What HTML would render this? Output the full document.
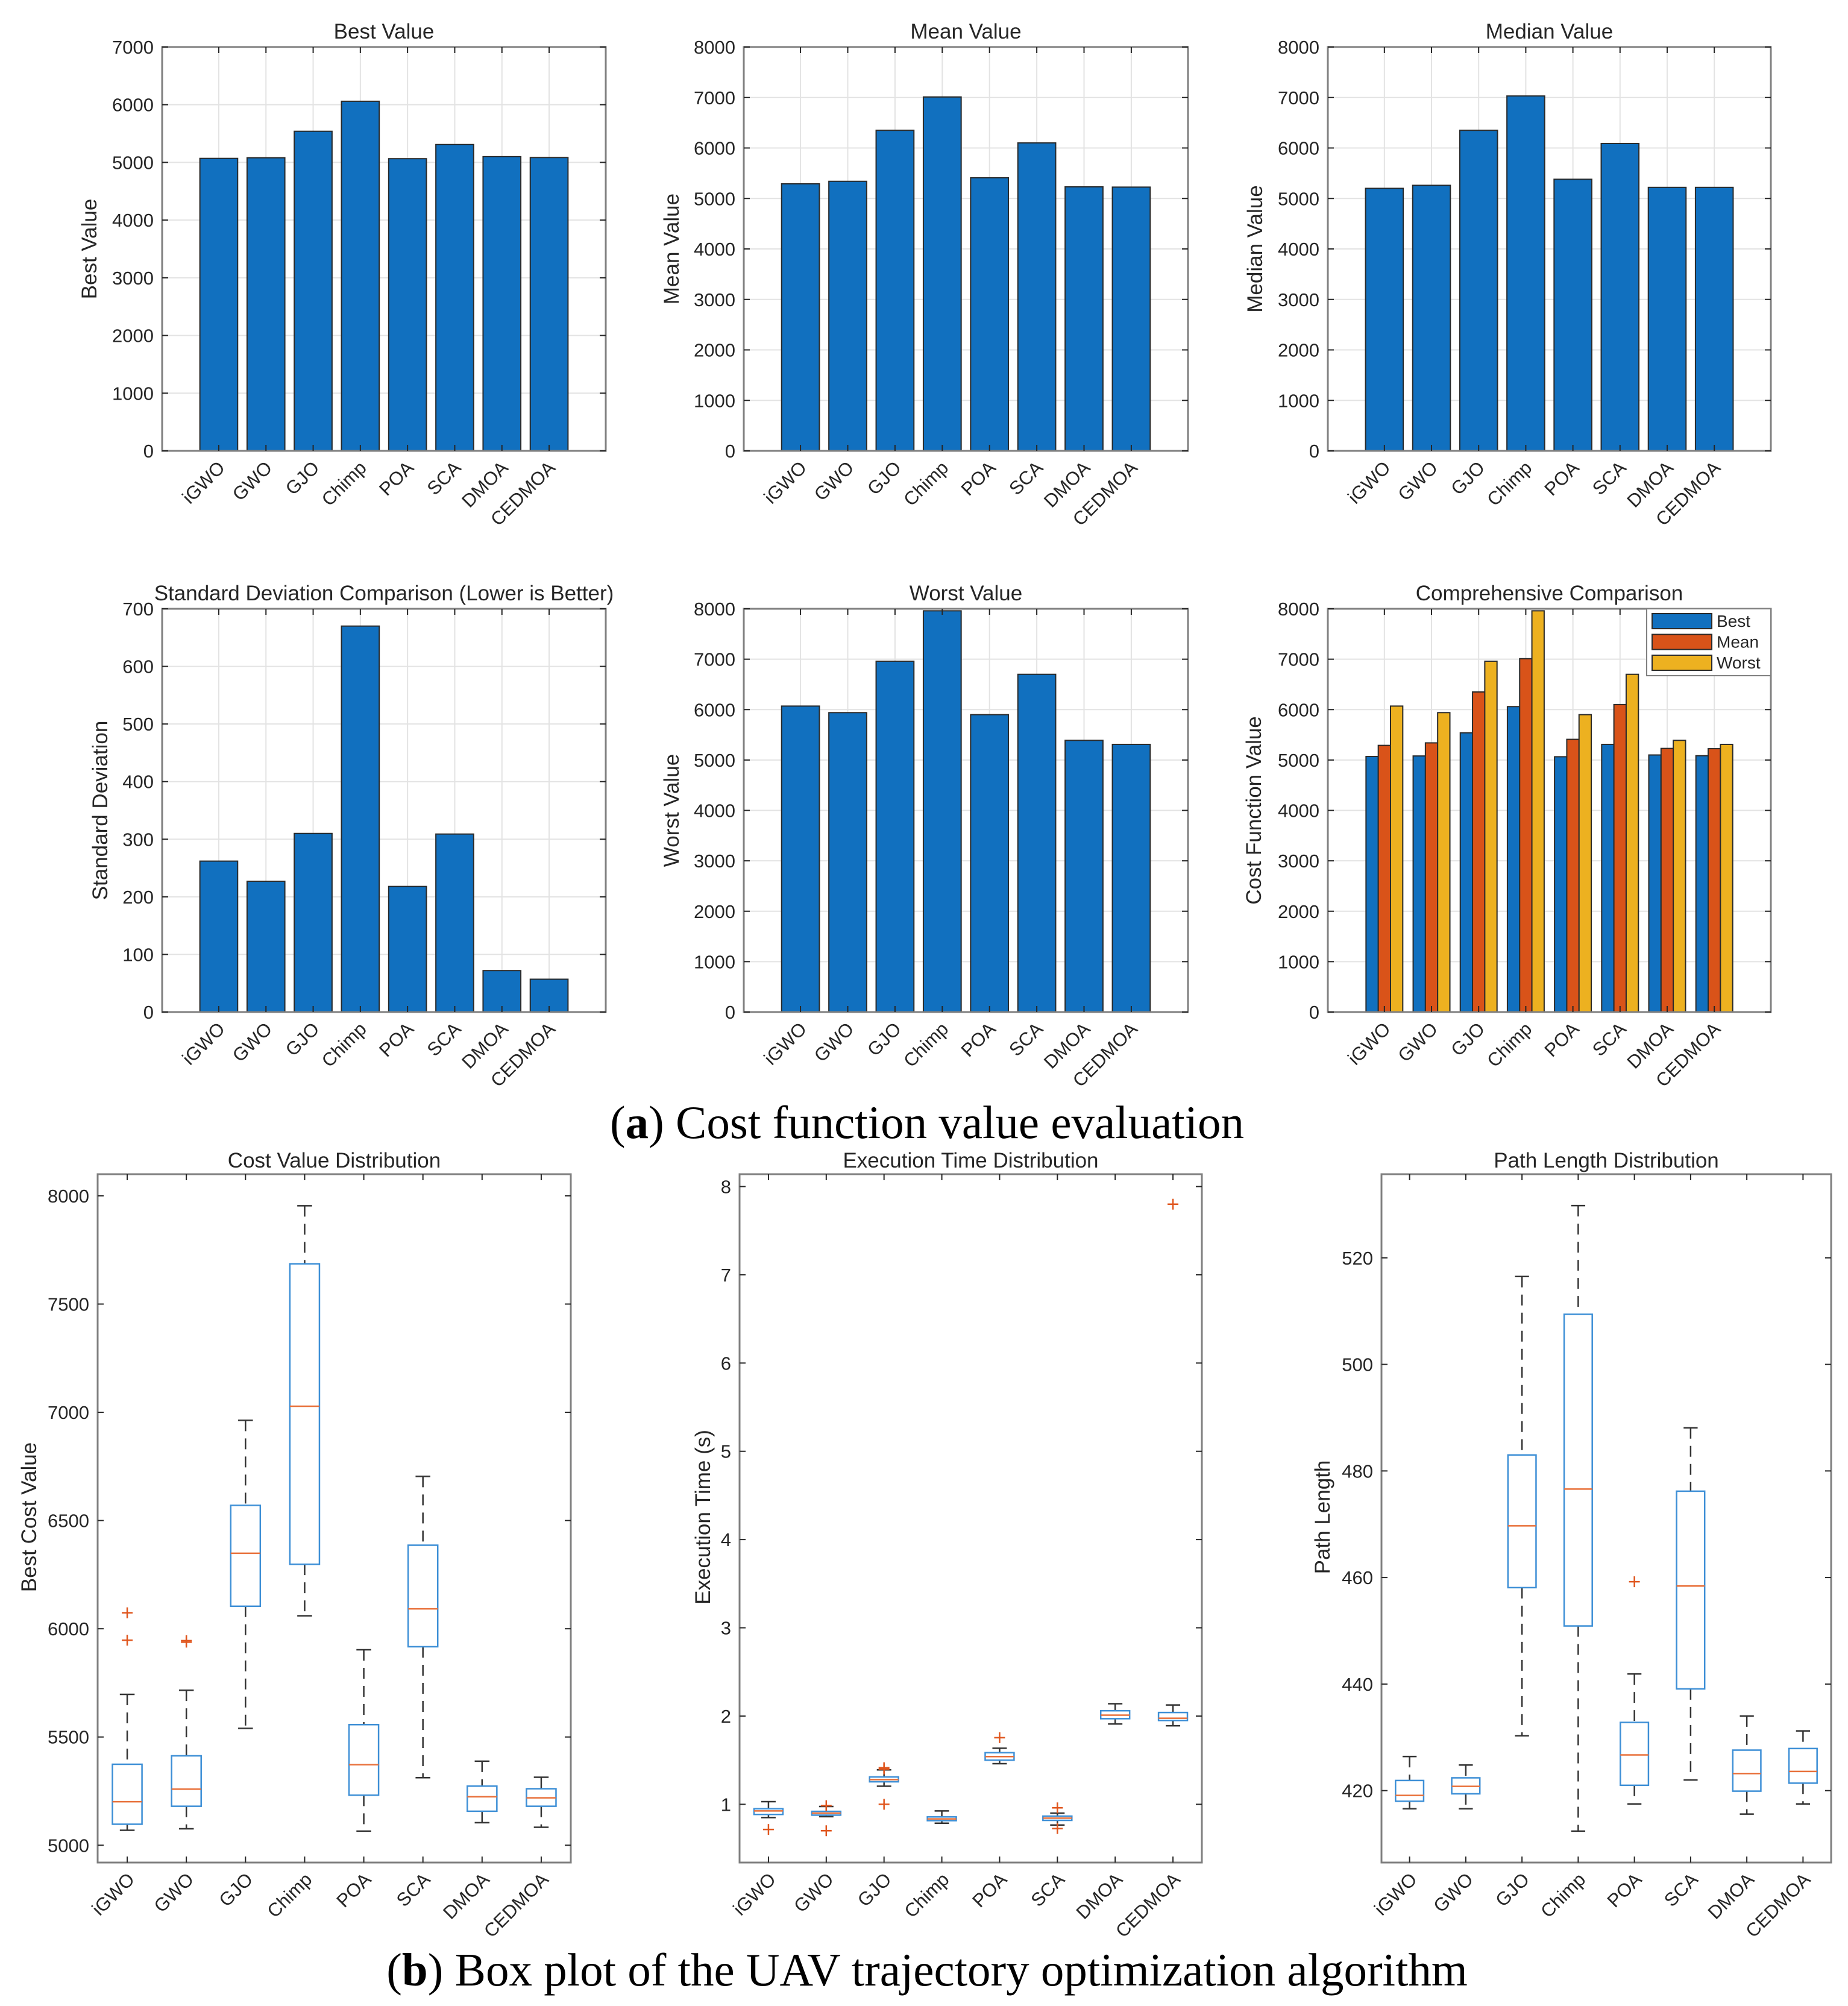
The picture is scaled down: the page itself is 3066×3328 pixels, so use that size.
<!DOCTYPE html>
<html><head><meta charset="utf-8"><title>Cost evaluation and box plots</title>
<style>
html,body{margin:0;padding:0;background:#fff;}
svg{display:block;font-family:"Liberation Sans",Arial,sans-serif;}
</style></head>
<body>
<svg id="fig" width="3066" height="3328" viewBox="0 0 3066 3328" xmlns="http://www.w3.org/2000/svg">
<rect x="0" y="0" width="3066" height="3328" fill="#fff"/>
<text x="1538" y="1888" text-anchor="middle" font-family="Liberation Serif, serif" font-size="77" fill="#000">(<tspan font-weight="bold">a</tspan>) Cost function value evaluation</text>
<text x="1538" y="3294" text-anchor="middle" font-family="Liberation Serif, serif" font-size="77" fill="#000">(<tspan font-weight="bold">b</tspan>) Box plot of the UAV trajectory optimization algorithm</text>
</svg>
<script>
const categories = ["iGWO","GWO","GJO","Chimp","POA","SCA","DMOA","CEDMOA"];
const bestVals   = [5070,5080,5540,6060,5065,5310,5100,5085];
const meanVals   = [5290,5340,6350,7010,5410,6100,5230,5225];
const medianVals = [5200,5260,6350,7030,5380,6090,5220,5220];
const stdVals    = [262,227,310,670,218,309,72,57];
const worstVals  = [6070,5940,6960,7960,5900,6700,5390,5310];
const ticks7000 = [0,1000,2000,3000,4000,5000,6000,7000];
const ticks8000 = [0,1000,2000,3000,4000,5000,6000,7000,8000];
const ticks700  = [0,100,200,300,400,500,600,700];
const legendLabels = ["Best","Mean","Worst"];

const costLow  = [5069,5076,5540,6060,5065,5312,5104,5083];
const costQ1   = [5097,5180,6104,6298,5231,5917,5157,5180];
const costMed  = [5201,5259,6349,7028,5372,6092,5224,5219];
const costQ3   = [5374,5413,6570,7686,5557,6386,5273,5261];
const costHigh = [5697,5716,6963,7954,5903,6704,5388,5314];
const costOut  = [[6074,5947],[5945,5938],[],[],[],[],[],[]];
const costTicks = [5000,5500,6000,6500,7000,7500,8000];

const timeLow  = [0.85,0.86,1.205,0.786,1.46,0.765,1.91,1.89];
const timeQ1   = [0.885,0.877,1.255,0.815,1.50,0.818,1.97,1.95];
const timeMed  = [0.925,0.90,1.28,0.834,1.54,0.843,2.01,1.975];
const timeQ3   = [0.95,0.92,1.31,0.857,1.585,0.866,2.06,2.04];
const timeHigh = [1.03,0.975,1.39,0.925,1.635,0.90,2.14,2.125];
const timeOut  = [[0.715],[0.70,0.985],[1.415,1.40,1.0],[],[1.755],[0.96,0.725],[],[7.8]];
const timeTicks = [1,2,3,4,5,6,7,8];

const pathLow  = [416.6,416.6,430.3,412.4,417.5,422.0,415.6,417.5];
const pathQ1   = [418.0,419.4,458.1,450.9,421.0,439.1,419.9,421.4];
const pathMed  = [419.1,420.8,469.7,476.6,426.7,458.4,423.2,423.6];
const pathQ3   = [421.9,422.4,483.0,509.4,432.8,476.2,427.6,427.9];
const pathHigh = [426.4,424.8,516.5,529.8,441.9,488.1,434.0,431.2];
const pathOut  = [[],[],[],[],[459.2],[],[],[]];
const pathTicks = [420,440,460,480,500,520];

const SVGNS = "http://www.w3.org/2000/svg";
const fig = document.getElementById('fig');
function mk(tag, attrs, parent){
  const el = document.createElementNS(SVGNS, tag);
  for (const k in attrs) el.setAttribute(k, attrs[k]);
  (parent || fig).appendChild(el);
  return el;
}
const TXT = "#262626";
const TICKF = 31, TITLEF = 35, LABELF = 35;

function axesFrame(g, L, R, T, B, name){
  const f = mk('rect', {x:L, y:T, width:R-L, height:B-T, fill:'none', stroke:'#7f7f7f', 'stroke-width':3}, g);
  
  
}

function barChart(o){
  const g = mk('g', {});
  
  
  const L=o.L,R=o.R,T=o.T,B=o.B;
  const xmin=-0.2, xmax=9.2;
  const xs = v => L + (v - xmin)/(xmax - xmin)*(R-L);
  const ys = v => B - (v - o.ymin)/(o.ymax - o.ymin)*(B-T);
  o.ticks.forEach(t => {
    const gl = mk('line', {x1:L, x2:R, y1:ys(t), y2:ys(t), stroke:'#e3e3e3', 'stroke-width':2}, g);
    
    
  });
  categories.forEach((c,i) => {
    const gl = mk('line', {x1:xs(i+1), x2:xs(i+1), y1:T, y2:B, stroke:'#e3e3e3', 'stroke-width':2}, g);
    
    
  });
  const ns = o.series.length;
  const groupW = ns === 1 ? 0.8 : 0.78;
  const bw = groupW / ns;
  o.series.forEach((arr, s) => {
    arr.forEach((v, i) => {
      const x0 = (i+1) - groupW/2 + s*bw;
      const r = mk('rect', {x:xs(x0), y:ys(v), width:xs(x0+bw)-xs(x0), height:ys(o.ymin)-ys(v), fill:o.colors[s], stroke:'#2a2a2a', 'stroke-width':2}, g);
      
      
    });
  });
  axesFrame(g, L, R, T, B, o.name);
  o.ticks.forEach(t => {
    mk('line', {x1:L, x2:L+10, y1:ys(t), y2:ys(t), stroke:'#262626', 'stroke-width':2}, g);
    mk('line', {x1:R, x2:R-10, y1:ys(t), y2:ys(t), stroke:'#262626', 'stroke-width':2}, g);
    const tx = mk('text', {x:L-14, y:ys(t)+11, 'text-anchor':'end', 'font-size':TICKF, fill:TXT}, g);
    tx.textContent = t;
    
    
  });
  categories.forEach((c,i) => {
    const x = xs(i+1);
    mk('line', {x1:x, x2:x, y1:B, y2:B-10, stroke:'#262626', 'stroke-width':2}, g);
    mk('line', {x1:x, x2:x, y1:T, y2:T+10, stroke:'#262626', 'stroke-width':2}, g);
    const tx = mk('text', {x:x+12, y:B+30, 'text-anchor':'end', 'font-size':TICKF, fill:TXT, transform:`rotate(-45 ${x+12} ${B+30})`}, g);
    tx.textContent = c;
    
    
  });
  const ti = mk('text', {x:(L+R)/2, y:T-14, 'text-anchor':'middle', 'font-size':TITLEF, fill:TXT}, g);
  ti.textContent = o.title;
  
  
  const yl = mk('text', {x:o.ylx, y:(T+B)/2, 'text-anchor':'middle', 'font-size':LABELF, fill:TXT, transform:`rotate(-90 ${o.ylx} ${(T+B)/2})`}, g);
  yl.textContent = o.ylabel;
  
  
  if (o.legend){
    const lg = mk('g', {}, g);
    
    
    mk('rect', {x:2732, y:1010, width:206, height:111, fill:'#fff', stroke:'#7f7f7f', 'stroke-width':2}, lg);
    legendLabels.forEach((lab, s) => {
      const e = mk('g', {}, lg);
      
      
      mk('rect', {x:2741, y:1018 + s*34.5, width:99, height:25, fill:o.colors[s], stroke:'#2a2a2a', 'stroke-width':2}, e);
      const t = mk('text', {x:2848, y:1040 + s*34.5, 'font-size':28, fill:TXT}, e);
      t.textContent = lab;
    });
  }
}

const BLUE="#1170BF", ORANGE="#D95319", YELLOW="#EDB120";
const r1T=78, r1B=748, r2T=1010, r2B=1679;
const cL=[269,1234,2203], cR=[1005,1971,2938];
barChart({name:'best-value-chart', L:cL[0],R:cR[0],T:r1T,B:r1B, ymin:0,ymax:7000,ticks:ticks7000, series:[bestVals], colors:[BLUE], title:'Best Value', ylabel:'Best Value', ylx:160});
barChart({name:'mean-value-chart', L:cL[1],R:cR[1],T:r1T,B:r1B, ymin:0,ymax:8000,ticks:ticks8000, series:[meanVals], colors:[BLUE], title:'Mean Value', ylabel:'Mean Value', ylx:1126});
barChart({name:'median-value-chart', L:cL[2],R:cR[2],T:r1T,B:r1B, ymin:0,ymax:8000,ticks:ticks8000, series:[medianVals], colors:[BLUE], title:'Median Value', ylabel:'Median Value', ylx:2094});
barChart({name:'std-chart', L:cL[0],R:cR[0],T:r2T,B:r2B, ymin:0,ymax:700,ticks:ticks700, series:[stdVals], colors:[BLUE], title:'Standard Deviation Comparison (Lower is Better)', ylabel:'Standard Deviation', ylx:178});
barChart({name:'worst-value-chart', L:cL[1],R:cR[1],T:r2T,B:r2B, ymin:0,ymax:8000,ticks:ticks8000, series:[worstVals], colors:[BLUE], title:'Worst Value', ylabel:'Worst Value', ylx:1126});
barChart({name:'comprehensive-chart', L:cL[2],R:cR[2],T:r2T,B:r2B, ymin:0,ymax:8000,ticks:ticks8000, series:[bestVals,meanVals,worstVals], colors:[BLUE,ORANGE,YELLOW], title:'Comprehensive Comparison', ylabel:'Cost Function Value', ylx:2092, legend:true});

function boxChart(o){
  const g = mk('g', {});
  
  
  const L=o.L,R=o.R,T=1948,B=3090;
  const xs = v => L + (v - 0.5)/8*(R-L);
  const ys = v => B - (v - o.ymin)/(o.ymax - o.ymin)*(B-T);
  const unit = (R-L)/8;
  axesFrame(g, L, R, T, B, o.name);
  categories.forEach((c,i) => {
    const x = xs(i+1);
    const bg = mk('g', {}, g);
    
    
    const hw = unit*0.25, cw = unit*0.125;
    mk('line', {x1:x, x2:x, y1:ys(o.high[i]), y2:ys(o.q3[i]), stroke:'#333', 'stroke-width':2.5, 'stroke-dasharray':'18 12'}, bg);
    mk('line', {x1:x, x2:x, y1:ys(o.q1[i]), y2:ys(o.low[i]), stroke:'#333', 'stroke-width':2.5, 'stroke-dasharray':'18 12'}, bg);
    mk('line', {x1:x-cw, x2:x+cw, y1:ys(o.high[i]), y2:ys(o.high[i]), stroke:'#333', 'stroke-width':2.5}, bg);
    mk('line', {x1:x-cw, x2:x+cw, y1:ys(o.low[i]), y2:ys(o.low[i]), stroke:'#333', 'stroke-width':2.5}, bg);
    mk('rect', {x:x-hw, y:ys(o.q3[i]), width:2*hw, height:Math.max(1, ys(o.q1[i])-ys(o.q3[i])), fill:'#fff', stroke:'#3d8fd6', 'stroke-width':2.5}, bg);
    mk('line', {x1:x-hw, x2:x+hw, y1:ys(o.med[i]), y2:ys(o.med[i]), stroke:'#e8703a', 'stroke-width':2.5}, bg);
    o.out[i].forEach(v => {
      const y = ys(v);
      const p = mk('path', {d:`M${x-9} ${y}H${x+9}M${x} ${y-9}V${y+9}`, stroke:'#e0561e', 'stroke-width':2.5, fill:'none'}, bg);
      
      
    });
  });
  o.ticks.forEach(t => {
    mk('line', {x1:L, x2:L+10, y1:ys(t), y2:ys(t), stroke:'#262626', 'stroke-width':2}, g);
    mk('line', {x1:R, x2:R-10, y1:ys(t), y2:ys(t), stroke:'#262626', 'stroke-width':2}, g);
    const tx = mk('text', {x:L-14, y:ys(t)+11, 'text-anchor':'end', 'font-size':TICKF, fill:TXT}, g);
    tx.textContent = t;
    
    
  });
  categories.forEach((c,i) => {
    const x = xs(i+1);
    mk('line', {x1:x, x2:x, y1:B, y2:B-10, stroke:'#262626', 'stroke-width':2}, g);
    mk('line', {x1:x, x2:x, y1:T, y2:T+10, stroke:'#262626', 'stroke-width':2}, g);
    const tx = mk('text', {x:x+14, y:B+30, 'text-anchor':'end', 'font-size':TICKF, fill:TXT, transform:`rotate(-45 ${x+14} ${B+30})`}, g);
    tx.textContent = c;
    
    
  });
  const ti = mk('text', {x:(L+R)/2, y:T-11, 'text-anchor':'middle', 'font-size':TITLEF, fill:TXT}, g);
  ti.textContent = o.title;
  
  
  const yc = 2517;
  const yl = mk('text', {x:o.ylx, y:yc, 'text-anchor':'middle', 'font-size':LABELF, fill:TXT, transform:`rotate(-90 ${o.ylx} ${yc})`}, g);
  yl.textContent = o.ylabel;
  
  
}

boxChart({name:'cost-distribution-chart', L:162, R:947, ymin:4920, ymax:8100, ticks:costTicks, low:costLow, q1:costQ1, med:costMed, q3:costQ3, high:costHigh, out:costOut, title:'Cost Value Distribution', ylabel:'Best Cost Value', ylx:60});
boxChart({name:'time-distribution-chart', L:1227, R:1994, ymin:0.34, ymax:8.14, ticks:timeTicks, low:timeLow, q1:timeQ1, med:timeMed, q3:timeQ3, high:timeHigh, out:timeOut, title:'Execution Time Distribution', ylabel:'Execution Time (s)', ylx:1178});
boxChart({name:'path-distribution-chart', L:2292, R:3038, ymin:406.5, ymax:535.7, ticks:pathTicks, low:pathLow, q1:pathQ1, med:pathMed, q3:pathQ3, high:pathHigh, out:pathOut, title:'Path Length Distribution', ylabel:'Path Length', ylx:2206});
</script>
</body></html>
